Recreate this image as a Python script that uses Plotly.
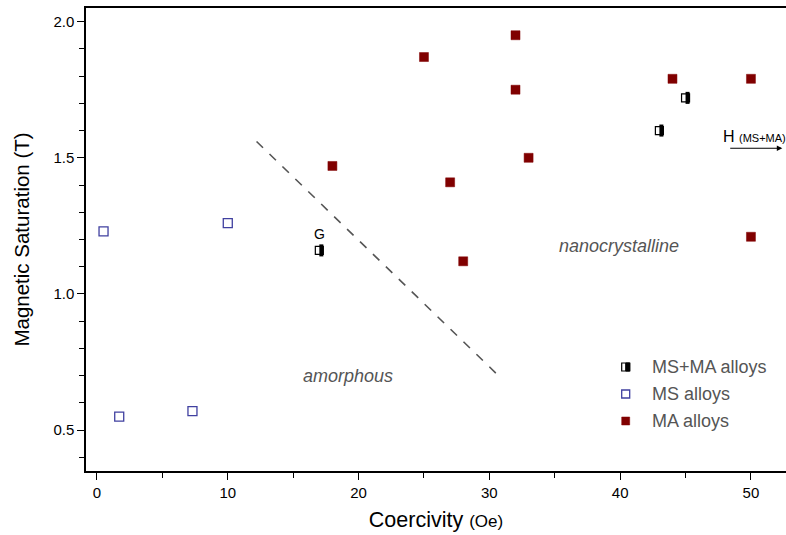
import plotly.graph_objects as go

# Coercivity (Oe) and magnetic saturation (T) by processing route
ms_ma_x = [17, 43, 45]
ms_ma_y = [1.16, 1.60, 1.72]

ms_x = [0.5, 1.7, 7.3, 10.0]
ms_y = [1.23, 0.55, 0.57, 1.26]

ma_x = [18, 25, 27, 28, 32, 32, 33, 44, 50, 50]
ma_y = [1.47, 1.87, 1.41, 1.12, 1.95, 1.75, 1.50, 1.79, 1.79, 1.21]

# Amorphous / nanocrystalline boundary
boundary_x = [12.2, 30.7]
boundary_y = [1.56, 0.70]

# Arrow for the MS+MA point lying beyond the axis range
arrow_x = [48.3, 52.4]
arrow_y = 1.535

FONT = "Liberation Sans, Arial, sans-serif"
DARK_RED = "#800000"
BLUE = "#4040a0"
GRAY = "#555555"

fig = go.Figure()

fig.add_trace(go.Scatter(
    x=boundary_x, y=boundary_y, mode="lines",
    line=dict(color=GRAY, width=1.6, dash="dash"),
    showlegend=False, hoverinfo="skip"))

fig.add_trace(go.Scatter(
    x=ms_x, y=ms_y, mode="markers", name="MS alloys",
    marker=dict(symbol="square", size=9, color="white",
                line=dict(color=BLUE, width=1.3)),
    showlegend=False))

fig.add_trace(go.Scatter(
    x=ma_x, y=ma_y, mode="markers", name="MA alloys",
    marker=dict(symbol="square", size=9, color=DARK_RED,
                line=dict(color=DARK_RED, width=0.5)),
    showlegend=False))

# Half-filled squares: white square with black border, then a black bar on the right half
fig.add_trace(go.Scatter(
    x=ms_ma_x, y=ms_ma_y, mode="markers", name="MS+MA alloys",
    marker=dict(symbol="square", size=8, color="white",
                line=dict(color="black", width=1.2)),
    showlegend=False))
fig.add_trace(go.Scatter(
    x=ms_ma_x, y=ms_ma_y, mode="markers",
    marker=dict(symbol="line-ew", size=8.6, angle=-90, standoff=2.0,
                line=dict(color="black", width=4.0)),
    showlegend=False, hoverinfo="skip"))

annotations = [
    dict(x=ms_ma_x[0], y=ms_ma_y[0] + 0.06, text="G", showarrow=False,
         font=dict(family=FONT, size=14, color="black")),
    dict(x=39.9, y=1.176, text="<i>nanocrystalline</i>", showarrow=False,
         font=dict(family=FONT, size=18, color=GRAY)),
    dict(x=19.2, y=0.70, text="<i>amorphous</i>", showarrow=False,
         font=dict(family=FONT, size=18, color=GRAY)),
    dict(x=arrow_x[1], y=arrow_y, ax=arrow_x[0], ay=arrow_y,
         xref="x", yref="y", axref="x", ayref="y", text="",
         showarrow=True, arrowhead=2, arrowsize=1, arrowwidth=1.1,
         arrowcolor="black"),
    dict(x=arrow_x[0] - 0.6, y=arrow_y + 0.045, xanchor="left",
         text="H <span style='font-size:11px'>(MS+MA)</span>",
         showarrow=False, font=dict(family=FONT, size=16, color="black")),
]

# Legend drawn as swatches and labels in the lower right
legend_rows = [("MS+MA alloys", 0.2246), ("MS alloys", 0.1663), ("MA alloys", 0.108)]
sw_x = 0.771
shapes = []
half = 4
for label, ypos in legend_rows:
    annotations.append(dict(x=0.806, y=ypos, xref="paper", yref="paper",
                            xanchor="left", yanchor="middle", text=label,
                            showarrow=False,
                            font=dict(family=FONT, size=18, color=GRAY)))
base = dict(type="rect", xref="paper", yref="paper", xsizemode="pixel",
            ysizemode="pixel", xanchor=sw_x)
shapes.append(dict(base, yanchor=legend_rows[0][1], x0=-half, x1=half, y0=-half, y1=half,
                   fillcolor="white", line=dict(color="black", width=1.2)))
shapes.append(dict(base, yanchor=legend_rows[0][1], x0=0, x1=half, y0=-half, y1=half,
                   fillcolor="black", line=dict(color="black", width=1)))
shapes.append(dict(base, yanchor=legend_rows[1][1], x0=-half, x1=half, y0=-half, y1=half,
                   fillcolor="white", line=dict(color=BLUE, width=1.3)))
shapes.append(dict(base, yanchor=legend_rows[2][1], x0=-half, x1=half, y0=-half, y1=half,
                   fillcolor=DARK_RED, line=dict(color=DARK_RED, width=0.5)))

fig.update_layout(
    width=786, height=535,
    margin=dict(l=86, r=0, t=8, b=64),
    paper_bgcolor="white", plot_bgcolor="white",
    font=dict(family=FONT, size=15, color="black"),
    showlegend=False,
    annotations=annotations,
    shapes=shapes,
    xaxis=dict(
        range=[-0.84, 52.68], tickvals=[0, 10, 20, 30, 40, 50],
        showgrid=False, zeroline=False,
        showline=True, linecolor="black", linewidth=1.5, mirror=True,
        ticks="outside", ticklen=7, tickwidth=1.3, tickcolor="black",
        minor=dict(dtick=5, tick0=0, ticks="outside", ticklen=5, tickwidth=1.3,
                   tickcolor="black", showgrid=False),
        tickfont=dict(family=FONT, size=15, color="black"),
        title=dict(text="Coercivity <span style='font-size:17px'>(Oe)</span>",
                   font=dict(family=FONT, size=21.5, color="black"), standoff=12),
    ),
    yaxis=dict(
        range=[0.35, 2.05], tickvals=[0.5, 1.0, 1.5, 2.0], tickformat=".1f",
        showgrid=False, zeroline=False,
        showline=True, linecolor="black", linewidth=1.5,
        ticks="outside", ticklen=7, tickwidth=1.3, tickcolor="black",
        minor=dict(dtick=0.1, tick0=0, ticks="outside", ticklen=5, tickwidth=1.3,
                   tickcolor="black", showgrid=False),
        tickfont=dict(family=FONT, size=15, color="black"),
        title=dict(text="Magnetic Saturation (T)",
                   font=dict(family=FONT, size=20.5, color="black"), standoff=18),
    ),
)

fig.write_html("out.html")
